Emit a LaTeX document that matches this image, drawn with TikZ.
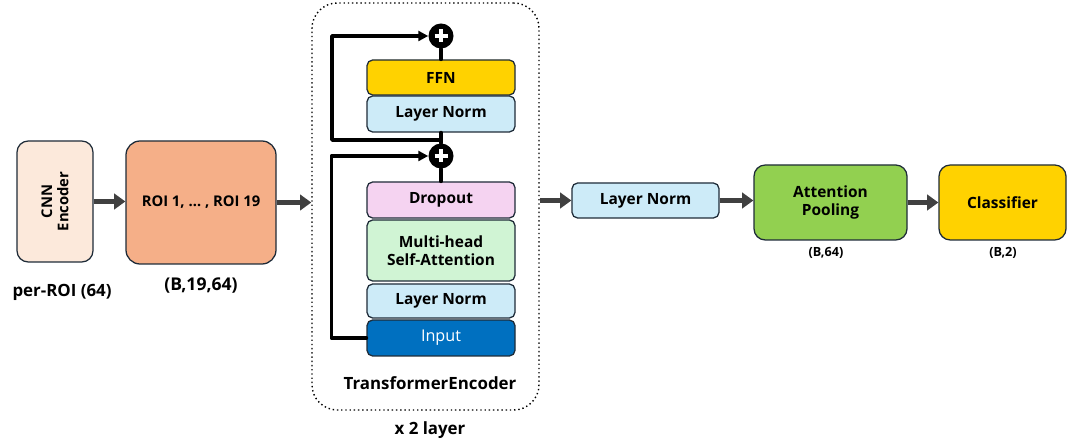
\documentclass[tikz,border=0pt]{standalone}
\usepackage{fontspec}
\setmainfont{Open Sans}
\usetikzlibrary{arrows.meta}
\def\px{0.025cm}
\definecolor{edgec}{HTML}{1E2B38}
\definecolor{cnnc}{HTML}{FCE9DB}
\definecolor{roic}{HTML}{F5AF88}
\definecolor{goldc}{HTML}{FFD200}
\definecolor{normc}{HTML}{CDEBF8}
\definecolor{dropc}{HTML}{F5D3F1}
\definecolor{attc}{HTML}{D0F4D4}
\definecolor{inpc}{HTML}{0070C0}
\definecolor{poolc}{HTML}{92D050}
\definecolor{flowc}{HTML}{404040}
\begin{document}
\begin{tikzpicture}[x=\px,y=-\px,line join=round,font=\bfseries\fontsize{11}{12.5}\selectfont,
	blk/.style={draw=edgec,line width=0.9pt,rounded corners=4pt,inner sep=0pt,align=center},
	sz/.style 2 args={minimum width=#1*\px,minimum height=#2*\px},
	flow/.style={draw=flowc,line width=3.8pt,-{Triangle[length=8pt,width=11pt]}},
	skip/.style={line width=2.6pt,line cap=round},
	addc/.style={circle,fill=black,minimum size=25*\px,inner sep=0pt,
		path picture={\draw[white,line width=2.4pt]
			(path picture bounding box.center) +(-6.5,0) -- +(6.5,0) +(0,-6.5) -- +(0,6.5);}}]
	\useasboundingbox (0,0) rectangle (1076,444);
	\node[blk,sz={121}{76},fill=cnnc,rounded corners=8pt,rotate=90,font=\bfseries\fontsize{10.5}{11.5}\selectfont] (cnn) at (55,201.5) {CNN\\Encoder};
	\node[blk,sz={150}{123},fill=roic,rounded corners=10pt,font=\bfseries\fontsize{10.5}{12}\selectfont] (roi) at (201,202.5) {ROI 1, \dots\ , ROI 19};
	\node[font=\bfseries\fontsize{12}{14}\selectfont] (perroi) at (62,292) {per-ROI (64)};
	\node[font=\bfseries\fontsize{12.5}{14}\selectfont] (roishape) at (201,286) {(B,19,64)};
	\node[draw,dotted,line width=1pt,rounded corners=18pt,sz={227}{407}] (enc) at (425.5,206.5) {};
	\node[blk,sz={148}{35},fill=goldc] (ffn) at (441,77.5) {FFN};
	\node[blk,sz={148}{36},fill=normc] (norm2) at (441,114) {Layer Norm};
	\node[blk,sz={148}{36},fill=dropc] (drop) at (441,200) {Dropout};
	\node[blk,sz={148}{61},fill=attc] (mhsa) at (441,250.5) {Multi-head\\Self-Attention};
	\node[blk,sz={148}{34},fill=normc] (norm1) at (441,301) {Layer Norm};
	\node[blk,sz={148}{36},fill=inpc,text=white,font=\fontsize{11.5}{12.5}\selectfont] (inp) at (441,338) {Input};
	\node[addc] (add1) at (441,36) {};
	\node[addc] (add2) at (441,156) {};
	\coordinate (split) at (441,140);
	\node[font=\bfseries\fontsize{12}{14}\selectfont] (enclabel) at (430,383) {TransformerEncoder};
	\node[font=\bfseries\fontsize{12}{14}\selectfont] (reps) at (430,430) {x 2 layer};
	\node[blk,sz={147}{35},fill=normc] (normout) at (645.5,200.5) {Layer Norm};
	\node[blk,sz={153}{75},fill=poolc,rounded corners=8pt] (pool) at (830.5,202.5) {Attention\\Pooling};
	\node[blk,sz={127}{75},fill=goldc,rounded corners=8pt] (cls) at (1002.5,202.5) {Classifier};
	\node[font=\bfseries\fontsize{9}{11}\selectfont] (poolshape) at (826,253) {(B,64)};
	\node[font=\bfseries\fontsize{9}{11}\selectfont] (clsshape) at (1003,253) {(B,2)};
	\draw[skip,-{Triangle[length=7pt,width=7pt]}] (inp.west) -- ++(-35,0) |- (add2.west);
	\draw[skip,-{Triangle[length=7pt,width=7pt]}] (split) -- ++(-109,0) |- (add1.west);
	\draw[skip] (drop.north) -- (add2.south);
	\draw[skip] (add2.north) -- (norm2.south);
	\draw[skip] (ffn.north) -- (add1.south);
	\draw[flow] (cnn.south) -- (roi.west |- cnn.south);
	\draw[flow] (roi.east) -- (roi.east -| enc.west);
	\draw[flow] (normout.west -| enc.east) -- (normout.west);
	\draw[flow] (normout.east) -- (normout.east -| pool.west);
	\draw[flow] (cls.west -| pool.east) -- (cls.west);
\end{tikzpicture}
\end{document}
